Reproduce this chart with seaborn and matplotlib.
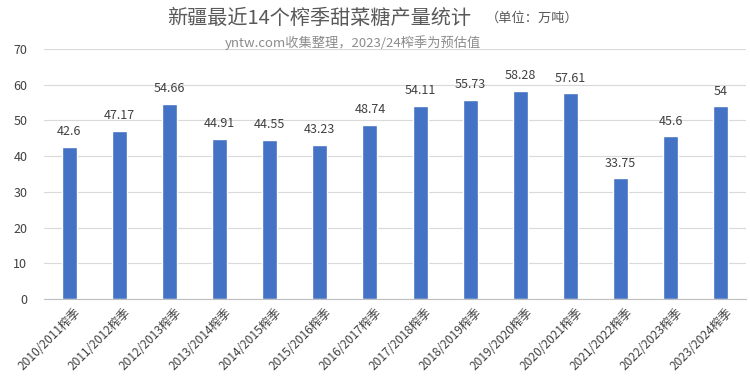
import seaborn as sns
import matplotlib.pyplot as plt
import matplotlib.transforms as mtransforms
import pandas as pd

seasons = ['2010/2011榨季', '2011/2012榨季', '2012/2013榨季', '2013/2014榨季',
           '2014/2015榨季', '2015/2016榨季', '2016/2017榨季', '2017/2018榨季',
           '2018/2019榨季', '2019/2020榨季', '2020/2021榨季', '2021/2022榨季',
           '2022/2023榨季', '2023/2024榨季']
output = [42.6, 47.17, 54.66, 44.91, 44.55, 43.23, 48.74, 54.11,
          55.73, 58.28, 57.61, 33.75, 45.6, 54]
value_labels = ['42.6', '47.17', '54.66', '44.91', '44.55', '43.23', '48.74', '54.11',
                '55.73', '58.28', '57.61', '33.75', '45.6', '54']

sns.set_style('white')
plt.rcParams['font.family'] = ['Noto Sans CJK SC', 'DejaVu Sans']

df = pd.DataFrame({'season': seasons, 'output': output})

fig = plt.figure(figsize=(7.5, 3.79), dpi=100)
ax = fig.add_axes([0.0587, 0.2111, 0.936, 0.6596])
sns.barplot(x='season', y='output', data=df, color='#4472C4', width=0.3,
            saturation=1, ax=ax)

for i, (v, lab) in enumerate(zip(output, value_labels)):
    ax.text(i, v + 2.4, lab, ha='center', va='bottom', fontsize=9, color='#404040')

ax.set_ylim(0, 70)
ax.set_xlim(-0.5, 13.5)
ax.set_yticks(range(0, 71, 10))
ax.yaxis.grid(True, color='#d9d9d9', linewidth=0.8)
ax.set_axisbelow(True)
for s in ['top', 'right', 'left']:
    ax.spines[s].set_visible(False)
ax.spines['bottom'].set_color('#bfbfbf')
ax.set_xlabel('')
ax.set_ylabel('')
ax.tick_params(axis='y', labelsize=9, labelcolor='#404040', length=0, pad=12)
ax.tick_params(axis='x', labelsize=8.6, labelcolor='#404040', length=0, pad=5)
offset = mtransforms.ScaledTranslation(5 / 100, 0, fig.dpi_scale_trans)
for t in ax.get_xticklabels():
    t.set_rotation(45)
    t.set_ha('right')
    t.set_rotation_mode('anchor')
    t.set_transform(t.get_transform() + offset)

fig.text(0.4253, 0.952, '新疆最近14个榨季甜菜糖产量统计', ha='center', va='center',
         fontsize=14.5, color='#595959')
fig.text(0.7093, 0.952, '（单位：万吨）', ha='center', va='center',
         fontsize=9.5, color='#595959')
fig.text(0.471, 0.888, 'yntw.com收集整理，2023/24榨季为预估值', ha='center', va='center',
         fontsize=9.5, color='#8c8c8c')

plt.savefig('out.png', dpi=100)
